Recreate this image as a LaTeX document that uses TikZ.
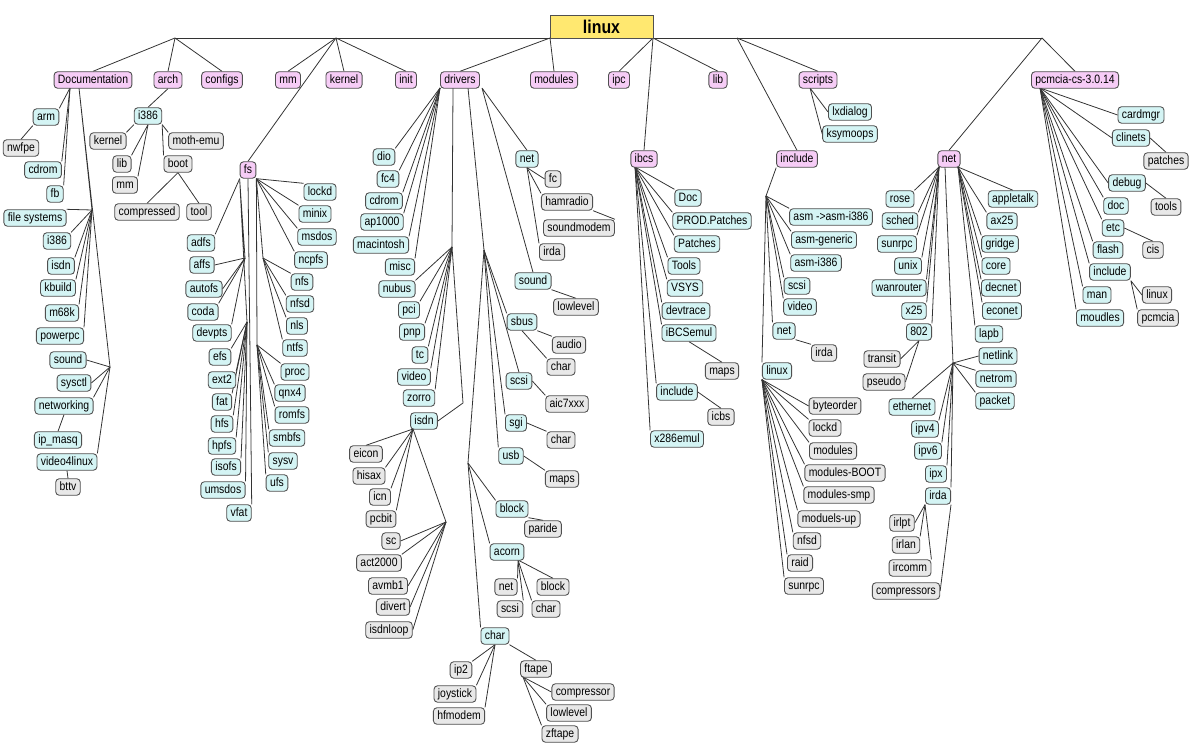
\documentclass[tikz,border=0pt]{standalone}
\usepackage{fontspec}
\setmainfont{Liberation Sans}[FakeStretch=0.86]
\usetikzlibrary{backgrounds}

\definecolor{dirpink}{RGB}{246,204,246}
\definecolor{dircyan}{RGB}{212,244,244}
\definecolor{dirgrey}{RGB}{232,232,232}
\definecolor{rootyellow}{RGB}{255,232,112}
\definecolor{boxline}{RGB}{80,80,80}

\tikzset{
  dirbox/.style={draw=boxline, line width=0.5pt, rounded corners=2pt, inner xsep=2.2pt, inner ysep=0pt,
    minimum height=0.33cm, text height=5pt, text depth=1.4pt, font=\fontsize{6.9}{8}\selectfont},
  topdir/.style={dirbox, fill=dirpink},
  subdir/.style={dirbox, fill=dircyan},
  leafdir/.style={dirbox, fill=dirgrey},
  rootbox/.style={draw=boxline, line width=0.5pt, fill=rootyellow, minimum width=2.06cm, minimum height=0.46cm,
    inner sep=0pt, font=\fontsize{10.5}{12}\selectfont\bfseries},
  branch/.style={draw=black!80, line width=0.45pt}
}

\begin{document}
\begin{tikzpicture}[x=0.02cm, y=-0.02cm]
    \useasboundingbox (0,0) rectangle (1189,749);

    % root and first level
    \node[rootbox] (linux) at (601.5,26.5) {linux};
    \coordinate (h1) at (175,38);
    \coordinate (h2) at (336,38);
    \coordinate (h3) at (550,38);
    \coordinate (h4) at (653,38);
    \coordinate (h5) at (737,38);
    \coordinate (h6) at (1042,38);

    \node[topdir] (doc) at (93,80) {Documentation};
    \node[topdir] (arch) at (168,80) {arch};
    \node[topdir] (configs) at (222,80) {configs};
    \node[topdir] (mm) at (288,80) {mm};
    \node[topdir] (kernel) at (344,80) {kernel};
    \node[topdir] (init) at (406,80) {init};
    \node[topdir] (drivers) at (460,80) {drivers};
    \node[topdir] (modules) at (554,80) {modules};
    \node[topdir] (ipc) at (619,80) {ipc};
    \node[topdir] (lib) at (718,80) {lib};
    \node[topdir] (scripts) at (818,80) {scripts};
    \node[topdir] (pcmcia) at (1075,80) {pcmcia-cs-3.0.14};
    \node[topdir] (fs) at (248,170) {fs};
    \node[topdir] (ibcs) at (644,159) {ibcs};
    \node[topdir] (include) at (797,159) {include};
    \node[topdir] (net) at (949,159) {net};

    % Documentation
    \node[subdir] (arm) at (46,117) {arm};
    \node[leafdir] (nwfpe) at (21,148) {nwfpe};
    \node[subdir] (cdromdoc) at (43,170) {cdrom};
    \node[subdir] (fb) at (55,194) {fb};
    \node[subdir] (fsys) at (35,218) {file systems};
    \node[subdir] (i386doc) at (57,241) {i386};
    \node[subdir] (isdndoc) at (61,266) {isdn};
    \node[subdir] (kbuild) at (58,288) {kbuild};
    \node[subdir] (m68k) at (62,313) {m68k};
    \node[subdir] (powerpc) at (60,336) {powerpc};
    \node[subdir] (sounddoc) at (68,360) {sound};
    \node[subdir] (sysctl) at (74,383) {sysctl};
    \node[subdir] (networking) at (64,406) {networking};
    \node[subdir] (ipmasq) at (58,440) {ip\_masq};
    \node[subdir] (vforl) at (67,462) {video4linux};
    \node[leafdir] (bttv) at (68,487) {bttv};

    % arch
    \node[subdir] (i386a) at (148,116) {i386};
    \node[leafdir] (kernela) at (108,141) {kernel};
    \node[leafdir] (liba) at (122,164) {lib};
    \node[leafdir] (mma) at (125,185) {mm};
    \node[leafdir] (mothemu) at (196,141) {moth-emu};
    \node[leafdir] (boot) at (178,164) {boot};
    \node[leafdir] (compressed) at (147,212) {compressed};
    \node[leafdir] (tool) at (199,212) {tool};

    % fs
    \node[subdir] (adfs) at (201,243) {adfs};
    \node[subdir] (affs) at (202,265) {affs};
    \node[subdir] (autofs) at (204,289) {autofs};
    \node[subdir] (coda) at (203,312) {coda};
    \node[subdir] (devpts) at (212,333) {devpts};
    \node[subdir] (efs) at (220,357) {efs};
    \node[subdir] (ext2) at (222,380) {ext2};
    \node[subdir] (fat) at (222,402) {fat};
    \node[subdir] (hfs) at (222,424) {hfs};
    \node[subdir] (hpfs) at (222,446) {hpfs};
    \node[subdir] (isofs) at (226,467) {isofs};
    \node[subdir] (umsdos) at (223,490) {umsdos};
    \node[subdir] (vfat) at (239,513) {vfat};
    \node[subdir] (lockd) at (320,192) {lockd};
    \node[subdir] (minix) at (315,214) {minix};
    \node[subdir] (msdos) at (317,237) {msdos};
    \node[subdir] (ncpfs) at (311,260) {ncpfs};
    \node[subdir] (nfs) at (302,282) {nfs};
    \node[subdir] (nfsd) at (300,304) {nfsd};
    \node[subdir] (nls) at (297,326) {nls};
    \node[subdir] (ntfs) at (295,348) {ntfs};
    \node[subdir] (proc) at (295,372) {proc};
    \node[subdir] (qnx) at (290,393) {qnx4};
    \node[subdir] (romfs) at (292,415) {romfs};
    \node[subdir] (smbfs) at (287,438) {smbfs};
    \node[subdir] (sysv) at (283,461) {sysv};
    \node[subdir] (ufs) at (277,483) {ufs};

    % drivers
    \node[subdir] (dio) at (384,157) {dio};
    \node[subdir] (fcfour) at (388,179) {fc4};
    \node[subdir] (cdromd) at (384,201) {cdrom};
    \node[subdir] (apk) at (382,222) {ap1000};
    \node[subdir] (mac) at (381,245) {macintosh};
    \node[subdir] (misc) at (400,267) {misc};
    \node[subdir] (nubus) at (397,289) {nubus};
    \node[subdir] (pci) at (409,310) {pci};
    \node[subdir] (pnp) at (412,332) {pnp};
    \node[subdir] (tc) at (420,355) {tc};
    \node[subdir] (video) at (414,377) {video};
    \node[subdir] (zorro) at (419,398) {zorro};
    \node[subdir] (isdnd) at (424,421) {isdn};
    \node[leafdir] (eicon) at (366,454) {eicon};
    \node[leafdir] (hisax) at (369,476) {hisax};
    \node[leafdir] (icn) at (380,497) {icn};
    \node[leafdir] (pcbit) at (381,519) {pcbit};
    \node[leafdir] (sc) at (391,541) {sc};
    \node[leafdir] (act) at (379,563) {act2000};
    \node[leafdir] (avmb) at (388,586) {avmb1};
    \node[leafdir] (divert) at (393,607) {divert};
    \node[leafdir] (isdnloop) at (389,630) {isdnloop};

    \node[subdir] (netd) at (527,159) {net};
    \node[leafdir] (fcd) at (553,179) {fc};
    \node[leafdir] (hamradio) at (567,202) {hamradio};
    \node[leafdir] (soundmodem) at (579,228) {soundmodem};
    \node[leafdir] (irdad) at (552,252) {irda};
    \node[subdir] (soundd) at (533,281) {sound};
    \node[leafdir] (lowleveld) at (576,307) {lowlevel};
    \node[subdir] (sbus) at (522,322) {sbus};
    \node[leafdir] (audio) at (569,345) {audio};
    \node[leafdir] (charsb) at (561,367) {char};
    \node[subdir] (scsid) at (519,381) {scsi};
    \node[leafdir] (aic) at (567,404) {aic7xxx};
    \node[subdir] (sgi) at (516,423) {sgi};
    \node[leafdir] (charsg) at (561,440) {char};
    \node[subdir] (usb) at (511,456) {usb};
    \node[leafdir] (maps) at (562,479) {maps};
    \node[subdir] (blockd) at (512,509) {block};
    \node[leafdir] (paride) at (543,529) {paride};
    \node[subdir] (acorn) at (507,552) {acorn};
    \node[leafdir] (neta) at (506,587) {net};
    \node[leafdir] (blocka) at (553,587) {block};
    \node[leafdir] (scsia) at (510,609) {scsi};
    \node[leafdir] (chara) at (546,609) {char};
    \node[subdir] (charc) at (495,636) {char};
    \node[leafdir] (iptwo) at (461,670) {ip2};
    \node[leafdir] (joystick) at (455,694) {joystick};
    \node[leafdir] (hfmodem) at (459,716) {hfmodem};
    \node[leafdir] (ftape) at (536,669) {ftape};
    \node[leafdir] (compressor) at (583,692) {compressor};
    \node[leafdir] (lowlevelc) at (569,713) {lowlevel};
    \node[leafdir] (zftape) at (560,734) {zftape};

    % ibcs
    \node[subdir] (docb) at (688,198) {Doc};
    \node[subdir] (prod) at (712,221) {PROD.Patches};
    \node[subdir] (patchesb) at (697,244) {Patches};
    \node[subdir] (tools) at (684,266) {Tools};
    \node[subdir] (vsys) at (685,288) {VSYS};
    \node[subdir] (devtrace) at (686,311) {devtrace};
    \node[subdir] (ibcsemul) at (689,333) {iBCSemul};
    \node[leafdir] (mapsb) at (722,371) {maps};
    \node[subdir] (includeb) at (677,392) {include};
    \node[leafdir] (icbs) at (721,417) {icbs};
    \node[subdir] (xemul) at (677,439) {x286emul};

    % include
    \node[subdir] (asmx) at (831,217) {asm ->asm-i386};
    \node[subdir] (asmg) at (824,240) {asm-generic};
    \node[subdir] (asmi) at (816,263) {asm-i386};
    \node[subdir] (scsii) at (797,286) {scsi};
    \node[subdir] (videoi) at (800,307) {video};
    \node[subdir] (neti) at (784,331) {net};
    \node[leafdir] (irdai) at (824,353) {irda};
    \node[subdir] (linuxi) at (777,371) {linux};
    \node[leafdir] (byteorder) at (835,406) {byteorder};
    \node[leafdir] (lockdi) at (825,428) {lockd};
    \node[leafdir] (modulesi) at (833,451) {modules};
    \node[leafdir] (modboot) at (845,473) {modules-BOOT};
    \node[leafdir] (modsmp) at (839,495) {modules-smp};
    \node[leafdir] (modup) at (829,519) {moduels-up};
    \node[leafdir] (nfsdi) at (807,541) {nfsd};
    \node[leafdir] (raid) at (800,563) {raid};
    \node[leafdir] (sunrpci) at (804,586) {sunrpc};

    % scripts
    \node[subdir] (lxdialog) at (850,112) {lxdialog};
    \node[subdir] (ksymoops) at (850,134) {ksymoops};

    % net
    \node[subdir] (rose) at (900,199) {rose};
    \node[subdir] (sched) at (900,221) {sched};
    \node[subdir] (sunrpcn) at (897,244) {sunrpc};
    \node[subdir] (unix) at (908,266) {unix};
    \node[subdir] (wanrouter) at (899,288) {wanrouter};
    \node[subdir] (xtf) at (914,311) {x25};
    \node[subdir] (eightoh) at (919,332) {802};
    \node[leafdir] (transit) at (882,359) {transit};
    \node[leafdir] (pseudo) at (884,382) {pseudo};
    \node[subdir] (appletalk) at (1013,199) {appletalk};
    \node[subdir] (axtf) at (1002,221) {ax25};
    \node[subdir] (gridge) at (1000,244) {gridge};
    \node[subdir] (core) at (996,266) {core};
    \node[subdir] (decnet) at (1001,288) {decnet};
    \node[subdir] (econet) at (1002,311) {econet};
    \node[subdir] (lapb) at (989,334) {lapb};
    \node[subdir] (netlink) at (998,356) {netlink};
    \node[subdir] (netrom) at (996,379) {netrom};
    \node[subdir] (packet) at (995,401) {packet};
    \node[subdir] (ethernet) at (912,407) {ethernet};
    \node[subdir] (ipvf) at (925,429) {ipv4};
    \node[subdir] (ipvs) at (928,451) {ipv6};
    \node[subdir] (ipx) at (936,474) {ipx};
    \node[subdir] (irdan) at (938,496) {irda};
    \node[leafdir] (irlpt) at (902,523) {irlpt};
    \node[leafdir] (irlan) at (906,545) {irlan};
    \node[leafdir] (ircomm) at (910,568) {ircomm};
    \node[leafdir] (compressors) at (906,591) {compressors};

    % pcmcia-cs
    \node[subdir] (cardmgr) at (1141,115) {cardmgr};
    \node[subdir] (clinets) at (1131,138) {clinets};
    \node[leafdir] (patchesp) at (1166,161) {patches};
    \node[subdir] (debug) at (1127,183) {debug};
    \node[leafdir] (toolsp) at (1166,207) {tools};
    \node[subdir] (docp) at (1116,206) {doc};
    \node[subdir] (etc) at (1113,228) {etc};
    \node[subdir] (flash) at (1108,250) {flash};
    \node[leafdir] (cis) at (1153,250) {cis};
    \node[subdir] (includep) at (1110,272) {include};
    \node[subdir] (man) at (1097,295) {man};
    \node[subdir] (moudles) at (1100,318) {moudles};
    \node[leafdir] (linuxp) at (1157,295) {linux};
    \node[leafdir] (pcmciap) at (1158,318) {pcmcia};

    % branch points
    \coordinate (docA) at (70,88);
    \coordinate (docB) at (79,88);
    \coordinate (dF) at (92,210);
    \coordinate (dS) at (110,367);
    \coordinate (fH1) at (245,258);
    \coordinate (fH2) at (247,322);
    \coordinate (fR1) at (263,258);
    \coordinate (fR2) at (257,345);
    \coordinate (drvA) at (440,88);
    \coordinate (drvB) at (453,88);
    \coordinate (drvC) at (468,88);
    \coordinate (drvD) at (482,88);
    \coordinate (dH1) at (452,247);
    \coordinate (dBend) at (463,403);
    \coordinate (dH2) at (484,250);
    \coordinate (dH3) at (468,463);
    \coordinate (iA) at (413,429);
    \coordinate (iH) at (446,522);
    \coordinate (acA) at (518,560);
    \coordinate (ftA) at (523,677);
    \coordinate (ibA) at (635,167);
    \coordinate (iH1) at (766,196);
    \coordinate (scA) at (810,88);
    \coordinate (nA) at (939,167);
    \coordinate (nB) at (945,167);
    \coordinate (nC) at (958,167);
    \coordinate (nH) at (953,363);
    \coordinate (pA) at (1040,88);

    \begin{scope}[on background layer, every path/.style={branch}]
    \draw (h1) -- (h6);
    \foreach \c in {doc,arch,configs} \draw (h1) -- (\c.north);
    \foreach \c in {mm,kernel,init,fs} \draw (h2) -- (\c.north);
    \foreach \c in {drivers,modules} \draw (h3) -- (\c.north);
    \foreach \c in {ipc,ibcs,lib} \draw (h4) -- (\c.north);
    \foreach \c in {include,scripts} \draw (h5) -- (\c.north);
    \foreach \c in {net,pcmcia} \draw (h6) -- (\c.north);

    % Documentation
    \foreach \c in {arm,cdromdoc,fb} \draw (docA) -- (\c.north east);
    \draw (arm.south west) -- (nwfpe.north);
    \draw (docB) -- (dF) (docB) -- (dS);
    \draw (dF) -- (fsys.north east);
    \foreach \c in {i386doc,isdndoc,kbuild,m68k,powerpc} \draw (dF) -- (\c.north east);
    \foreach \c in {sounddoc,sysctl} \draw (dS) -- (\c.east);
    \foreach \c in {networking,vforl} \draw (dS) -- (\c.north east);
    \draw (networking.south) -- (ipmasq.north);
    \draw (vforl.south) -- (bttv.north);

    % arch
    \draw (arch.south) -- (i386a.north);
    \draw (i386a.south west) -- (kernela.north east);
    \foreach \c in {liba,mma} \draw (i386a.south) -- (\c.north east);
    \draw (i386a.south east) -- (mothemu.north west);
    \draw (i386a.south east) -- (boot.north west);
    \draw (boot.south) -- (compressed.north) (boot.south) -- (tool.north);

    % fs
    \draw (fs.south west) -- (adfs.north east);
    \draw (fs.south west) -- (fH1) (fs.south west) -- (fH2);
    \draw (fs.south) -- (vfat.north east);
    \foreach \c in {affs,autofs} \draw (fH1) -- (\c.east);
    \foreach \c in {coda,devpts} \draw (fH1) -- (\c.north east);
    \foreach \c in {efs,ext2,fat,hfs,hpfs,isofs,umsdos} \draw (fH2) -- (\c.north east);
    \foreach \c in {lockd,minix,msdos,ncpfs} \draw (fs.south east) -- (\c.north west);
    \draw (fs.south east) -- (fR1) (fs.south east) -- (fR2);
    \foreach \c in {nfs,nfsd,nls,ntfs} \draw (fR1) -- (\c.north west);
    \foreach \c in {proc,qnx,romfs,smbfs,sysv,ufs} \draw (fR2) -- (\c.north west);

    % drivers
    \foreach \c in {dio,fcfour,cdromd,apk,mac,misc} \draw (drvA) -- (\c.north east);
    \draw (drvB) -- (dH1) -- (dBend) -- (isdnd.east);
    \foreach \c in {nubus,pci,pnp,tc,video,zorro} \draw (dH1) -- (\c.north east);
    \draw (iA) -- (eicon.north);
    \foreach \c in {hisax,icn,pcbit} \draw (iA) -- (\c.north east);
    \draw (iA) -- (iH);
    \foreach \c in {sc,avmb,divert,isdnloop} \draw (iH) -- (\c.east);
    \draw (iH) -- (act.north east);
    \draw (drvC) -- (dH2) -- (dH3);
    \foreach \c in {sbus,sgi,usb} \draw (dH2) -- (\c.north west);
    \draw (dH2) -- (scsid.north);
    \foreach \c in {blockd,acorn,charc} \draw (dH3) -- (\c.north west);
    \draw (drvD) -- (netd.north) (drvD) -- (soundd.north);
    \draw (netd.south) -- (fcd.west);
    \foreach \c in {hamradio,irdad} \draw (netd.south) -- (\c.north west);
    \draw (hamradio.south east) -- (soundmodem.north east);
    \draw (soundd.south east) -- (lowleveld.north);
    \draw (sbus.south east) -- (audio.north west);
    \draw (sbus.south) -- (charsb.north west);
    \draw (scsid.east) -- (aic.north west);
    \draw (sgi.east) -- (charsg.north west);
    \draw (usb.east) -- (maps.north west);
    \draw (blockd.south east) -- (paride.north);
    \draw (acA) -- (neta.north east) (acA) -- (scsia.north east);
    \draw (acA) -- (chara.north west) (acA) -- (blocka.north);
    \foreach \c in {iptwo,joystick,hfmodem} \draw (charc.south) -- (\c.north east);
    \draw (charc.south east) -- (ftape.north);
    \draw (ftA) -- (compressor.west);
    \foreach \c in {lowlevelc,zftape} \draw (ftA) -- (\c.north west);

    % ibcs
    \foreach \c in {docb,prod,patchesb,tools,vsys,devtrace,ibcsemul,includeb,xemul} \draw (ibA) -- (\c.north west);
    \draw (ibcsemul.south) -- (mapsb.north);
    \draw (includeb.east) -- (icbs.north);

    % include
    \draw (include.south west) -- (iH1);
    \foreach \c in {asmx,asmg,asmi,scsii,videoi,neti,linuxi} \draw (iH1) -- (\c.north west);
    \draw (neti.south east) -- (irdai.north west);
    \draw (linuxi.south west) -- (byteorder.west);
    \foreach \c in {lockdi,modulesi,modboot,modsmp,modup,nfsdi,raid,sunrpci} \draw (linuxi.south west) -- (\c.north west);

    % scripts
    \draw (scA) -- (lxdialog.west) (scA) -- (ksymoops.west);

    % net
    \foreach \c in {rose,sched,sunrpcn,unix,wanrouter,xtf,eightoh} \draw (nA) -- (\c.north east);
    \draw (eightoh.south) -- (transit.east) (eightoh.south) -- (pseudo.east);
    \draw (nB) -- (nH);
    \draw (nH) -- (netlink.west);
    \foreach \c in {netrom,packet} \draw (nH) -- (\c.north west);
    \draw (nH) -- (ethernet.north);
    \foreach \c in {ipvf,ipvs,ipx,irdan} \draw (nH) -- (\c.north east);
    \draw (nC) -- (appletalk.north);
    \foreach \c in {axtf,gridge,core,decnet,econet,lapb} \draw (nC) -- (\c.north west);
    \draw (irdan.south west) -- (irlpt.east);
    \foreach \c in {irlan,ircomm} \draw (irdan.south west) -- (\c.north east);
    \draw (irdan.south east) -- (compressors.east);

    % pcmcia-cs
    \foreach \c in {cardmgr,clinets,debug} \draw (pA) -- (\c.west);
    \foreach \c in {docp,etc,flash,includep,man,moudles} \draw (pA) -- (\c.north west);
    \draw (clinets.east) -- (patchesp.north);
    \draw (debug.east) -- (toolsp.north);
    \draw (etc.east) -- (cis.north);
    \draw (includep.south east) -- (linuxp.west) (includep.south east) -- (pcmciap.north west);
    \end{scope}
\end{tikzpicture}
\end{document}
